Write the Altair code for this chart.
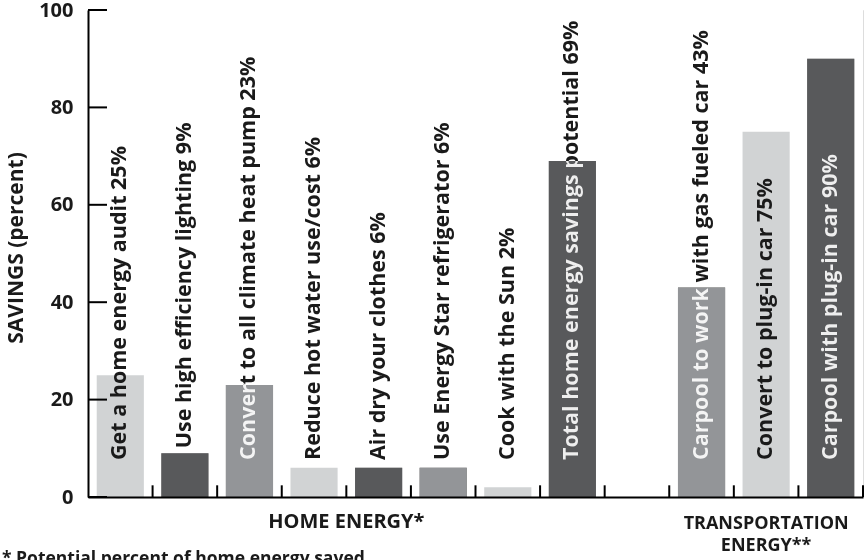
import altair as alt
import pandas as pd

# ---------------- data ----------------
slots = ["s0", "s1", "s2", "s3", "s4", "s5", "s6", "s7", "s8", "s9", "s10", "s11"]
names = [
    "Get a home energy audit",
    "Use high efficiency lighting",
    "Convert to all climate heat pump",
    "Reduce hot water use/cost",
    "Air dry your clothes",
    "Use Energy Star refrigerator",
    "Cook with the Sun",
    "Total home energy savings potential",
    "",
    "Carpool to work with gas fueled car",
    "Convert to plug-in car",
    "Carpool with plug-in car",
]
values = [25, 9, 23, 6, 6, 6, 2, 69, None, 43, 75, 90]
shades = ["light", "dark", "medium", "light", "dark", "medium", "light", "dark", "",
          "medium", "light", "dark"]
y_ticks = [0, 20, 40, 60, 80, 100]
home_label_text = "HOME ENERGY*"
home_anchor = "s3"
transport_label_text = "TRANSPORTATION\nENERGY**"
transport_anchor = "s10"
footnote = "* Potential percent of home energy saved"
y_title = "SAVINGS (percent)"

shade_domain = ["light", "medium", "dark"]
shade_colors = ["#d1d3d4", "#939598", "#58595b"]

# ---------------- layout ----------------
W, H = 775, 487
PAD = 0.27
STEP = W / len(slots)
SLOT_END = STEP * (1 - PAD / 2)   # from band start to the slot boundary
FONT = "Open Sans"
INK = "#1a1a1a"

df = pd.DataFrame({"slot": slots, "name": names, "value": values, "shade": shades})
bars_df = df[df["name"] != ""].reset_index(drop=True)
ticks_df = pd.DataFrame({"v": y_ticks})
slots_df = pd.DataFrame({"slot": slots})

x_scale = alt.Scale(domain=slots, paddingInner=PAD, paddingOuter=PAD / 2)
y_scale = alt.Scale(domain=[0, 100], nice=False)
x_axis = alt.Axis(labels=False, ticks=False, title=None, domainColor="black",
                  domainWidth=2, grid=False, zindex=1)
y_axis = alt.Axis(values=y_ticks, ticks=False, grid=False, domainColor="black",
                  domainWidth=2, labelFont=FONT, labelFontSize=20, labelFontWeight="bold",
                  labelColor=INK, labelPadding=15, title=y_title, titleFont=FONT,
                  titleFontSize=21, titleFontWeight="bold", titleColor=INK,
                  titleX=-72, titleY=H / 2 - 6, titleBaseline="middle", zindex=1)
color_enc = alt.Color("shade:N", scale=alt.Scale(domain=shade_domain, range=shade_colors), legend=None)


def X(field, **kw):
    return alt.X(field, scale=x_scale, axis=x_axis, **kw)


def Y(field):
    return alt.Y(field, scale=y_scale, axis=y_axis)


bg = alt.Chart(pd.DataFrame({"a": [0]})).mark_rect(color="white").encode(
    x=alt.value(0), x2=alt.value(W), y=alt.value(0), y2=alt.value(H)
)

light_bars = alt.Chart(bars_df).transform_filter(alt.datum.shade == "light").mark_bar().encode(
    x=X("slot:N"), y=Y("value:Q"), color=color_enc,
)

labels = alt.Chart(bars_df).transform_calculate(
    label="datum.name + ' ' + datum.value + '%'",
    start="datum.value > 7 && datum.value < 15 ? datum.value + 1 : 7.6",
).mark_text(angle=270, align="left", baseline="middle", font=FONT, fontSize=21.5,
            fontWeight="bold", color=INK).encode(
    x=X("slot:N"), y=Y("start:Q"), text="label:N",
)

dark_invert = alt.Chart(bars_df).transform_filter(alt.datum.shade != "light").mark_bar(
    color="white", blend="difference").encode(x=X("slot:N"), y=Y("value:Q"))

dark_bars = alt.Chart(bars_df).transform_filter(alt.datum.shade != "light").mark_bar(
    blend="screen").encode(x=X("slot:N"), y=Y("value:Q"), color=color_enc)

y_tick_rules = alt.Chart(ticks_df).mark_rule(color="black", strokeWidth=2).encode(
    y=Y("v:Q"), x=alt.value(0), x2=alt.value(19),
)

x_tick_rules = alt.Chart(slots_df).mark_rule(color="black", strokeWidth=2).encode(
    x=X("slot:N"), xOffset=alt.value(SLOT_END),
    y=alt.datum(0), y2=alt.datum(2.4),
)

home_label = alt.Chart(pd.DataFrame({"g": [home_label_text], "anchor": [home_anchor]})).mark_text(
    font=FONT, fontSize=20, fontWeight="bold", color=INK, align="center",
    baseline="alphabetic").encode(
    x=X("anchor:N"), xOffset=alt.value(SLOT_END),
    y=alt.value(H + 31), text="g:N",
)

transport_label = alt.Chart(
    pd.DataFrame({"g": [transport_label_text], "anchor": [transport_anchor]})).mark_text(
    font=FONT, fontSize=18, fontWeight="bold", color=INK, align="center",
    baseline="alphabetic", lineBreak="\n", lineHeight=22).encode(
    x=X("anchor:N"), y=alt.value(H + 32), text="g:N",
)

foot = alt.Chart(pd.DataFrame({"t": [footnote]})).mark_text(
    font=FONT, fontSize=17.5, fontWeight="bold", color=INK, align="left",
    baseline="alphabetic").encode(
    x=alt.value(-86), y=alt.value(H + 67), text="t:N"
)

chart = alt.layer(
    bg, light_bars, labels, dark_invert, dark_bars, y_tick_rules, x_tick_rules,
    home_label, transport_label, foot,
).properties(
    width=W, height=H,
    autosize=alt.AutoSizeParams(type="none"),
    padding={"left": 88, "top": 10, "right": 4, "bottom": 63},
).configure_view(stroke=None).configure(background="white")

chart.save("out.html", embed_options={"renderer": "svg", "actions": False})
